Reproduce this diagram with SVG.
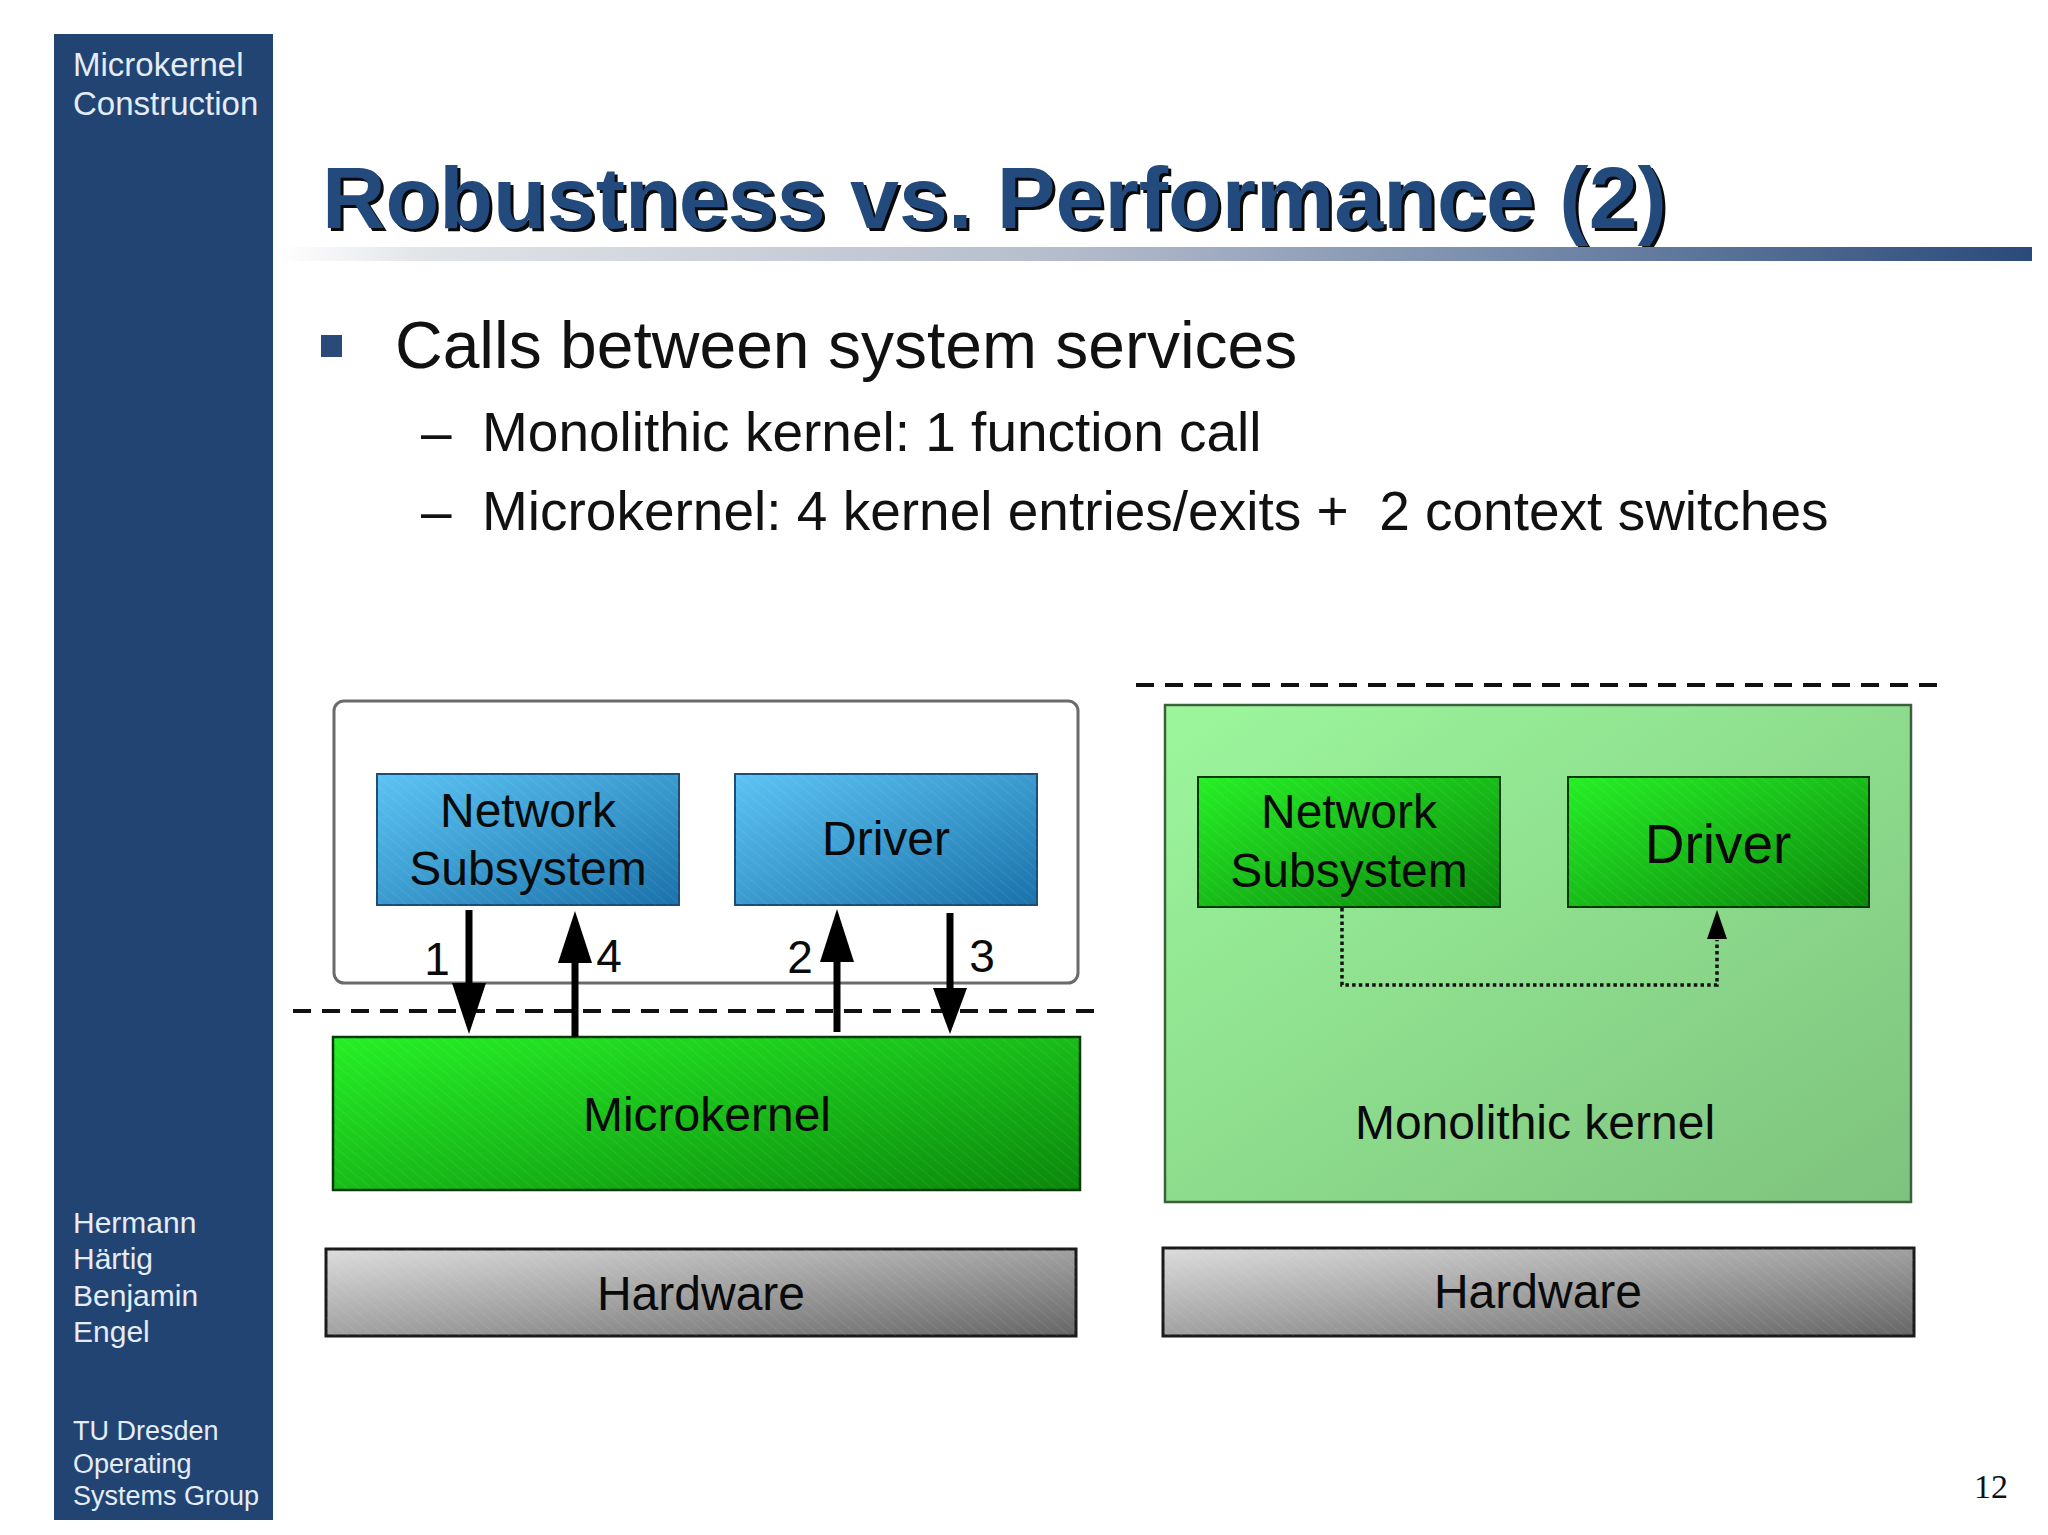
<svg xmlns="http://www.w3.org/2000/svg" width="2048" height="1535" viewBox="0 0 2048 1535">
<defs>
<style>
.side{font-family:"Liberation Sans",Arial,sans-serif;fill:#e4ecf7}
.body{font-family:"Liberation Sans",Arial,sans-serif;fill:#111}
.lbl{font-family:"Liberation Sans",Arial,sans-serif;font-size:48px;fill:#0a0a0a;text-anchor:middle}
.num{font-family:"Liberation Sans",Arial,sans-serif;font-size:46px;fill:#0a0a0a;text-anchor:middle}
.dash{stroke:#111;stroke-width:4;stroke-dasharray:18 11;fill:none}
.shaft{stroke:#000;stroke-width:7;fill:none}
.head{fill:#000}
.dot{stroke:#111;stroke-width:3.5;stroke-dasharray:3.5 3.2;fill:none}
</style>
<linearGradient id="bar" x1="0" y1="0" x2="1" y2="0">
<stop offset="0" stop-color="#ffffff"/>
<stop offset="0.08" stop-color="#e2e4e8"/>
<stop offset="0.45" stop-color="#b4bccb"/>
<stop offset="0.75" stop-color="#6c82a4"/>
<stop offset="1" stop-color="#2a4a7a"/>
</linearGradient>
<linearGradient id="blue" x1="0" y1="0" x2="1" y2="1">
<stop offset="0" stop-color="#5cc4f4"/>
<stop offset="1" stop-color="#1a72aa"/>
</linearGradient>
<linearGradient id="green" x1="0" y1="0" x2="1" y2="1">
<stop offset="0" stop-color="#26f026"/>
<stop offset="1" stop-color="#0b880b"/>
</linearGradient>
<linearGradient id="lgreen" x1="0" y1="0" x2="1" y2="1">
<stop offset="0" stop-color="#9cf79c"/>
<stop offset="1" stop-color="#7ec27e"/>
</linearGradient>
<linearGradient id="gray" x1="0" y1="0" x2="1" y2="1">
<stop offset="0" stop-color="#dcdcdc"/>
<stop offset="1" stop-color="#666666"/>
</linearGradient>
<pattern id="hatch" width="8" height="8" patternUnits="userSpaceOnUse" patternTransform="rotate(-50)">
<line x1="0" y1="0" x2="0" y2="8" stroke="#ffffff" stroke-opacity="0.07" stroke-width="2"/>
</pattern>
</defs>
<rect width="2048" height="1535" fill="#ffffff"/>

<g id="sidebar">
<rect x="54" y="34" width="219" height="1486" fill="#224473"/>
<text class="side" x="73" y="76" style="font-size:33px">Microkernel</text>
<text class="side" x="73" y="115" style="font-size:33px">Construction</text>
<text class="side" x="73" y="1233" style="font-size:30px">Hermann</text>
<text class="side" x="73" y="1269" style="font-size:30px">Härtig</text>
<text class="side" x="73" y="1306" style="font-size:30px">Benjamin</text>
<text class="side" x="73" y="1342" style="font-size:30px">Engel</text>
<text class="side" x="73" y="1440" style="font-size:27px">TU Dresden</text>
<text class="side" x="73" y="1473" style="font-size:27px">Operating</text>
<text class="side" x="73" y="1505" style="font-size:27px">Systems Group</text>
</g>

<g id="title">
<text x="325" y="231" font-family="'Liberation Sans',Arial,sans-serif" font-weight="bold" font-size="88" fill="#0a0a0a">Robustness vs. Performance (2)</text>
<text x="322" y="228" font-family="'Liberation Sans',Arial,sans-serif" font-weight="bold" font-size="88" fill="#234a7c">Robustness vs. Performance (2)</text>
<rect x="280" y="247" width="1752" height="14" fill="url(#bar)"/>
</g>

<g id="bullets">
<rect x="321" y="335" width="21" height="22" fill="#2a4a7a"/>
<text class="body" x="395" y="368" style="font-size:66px">Calls between system services</text>
<text class="body" x="421" y="451" style="font-size:55px">–</text>
<text class="body" x="482" y="451" style="font-size:55px">Monolithic kernel: 1 function call</text>
<text class="body" x="421" y="530" style="font-size:55px">–</text>
<text class="body" x="482" y="530" style="font-size:55px" xml:space="preserve">Microkernel: 4 kernel entries/exits +  2 context switches</text>
</g>

<g id="userspace">
<rect x="334" y="701" width="744" height="282" rx="10" fill="#ffffff" stroke="#6a6a6a" stroke-width="3"/>
</g>
<g id="net-left">
<rect x="377" y="774" width="302" height="131" fill="url(#blue)" stroke="#1b4d78" stroke-width="2"/>
<rect x="377" y="774" width="302" height="131" fill="url(#hatch)"/>
<text class="lbl" x="528" y="827">Network</text>
<text class="lbl" x="528" y="885">Subsystem</text>
</g>
<g id="driver-left">
<rect x="735" y="774" width="302" height="131" fill="url(#blue)" stroke="#1b4d78" stroke-width="2"/>
<rect x="735" y="774" width="302" height="131" fill="url(#hatch)"/>
<text class="lbl" x="886" y="855">Driver</text>
</g>
<g id="microkernel">
<rect x="333" y="1037" width="747" height="153" fill="url(#green)" stroke="#0a3a0a" stroke-width="2.5"/>
<rect x="333" y="1037" width="747" height="153" fill="url(#hatch)"/>
<text class="lbl" x="707" y="1131">Microkernel</text>
</g>
<g id="hardware-left">
<rect x="326" y="1249" width="750" height="87" fill="url(#gray)" stroke="#1a1a1a" stroke-width="3"/>
<rect x="326" y="1249" width="750" height="87" fill="url(#hatch)"/>
<text class="lbl" x="701" y="1310">Hardware</text>
</g>

<g id="monolithic">
<rect x="1165" y="705" width="746" height="497" fill="url(#lgreen)" stroke="#3d5f3d" stroke-width="2.5"/>
<text class="lbl" x="1535" y="1139">Monolithic kernel</text>
</g>
<g id="net-right">
<rect x="1198" y="777" width="302" height="130" fill="url(#green)" stroke="#0a3a0a" stroke-width="2"/>
<rect x="1198" y="777" width="302" height="130" fill="url(#hatch)"/>
<text class="lbl" x="1349" y="828">Network</text>
<text class="lbl" x="1349" y="887">Subsystem</text>
</g>
<g id="driver-right">
<rect x="1568" y="777" width="301" height="130" fill="url(#green)" stroke="#0a3a0a" stroke-width="2"/>
<rect x="1568" y="777" width="301" height="130" fill="url(#hatch)"/>
<text class="lbl" x="1718" y="863" style="font-size:55px">Driver</text>
</g>
<g id="hardware-right">
<rect x="1163" y="1248" width="751" height="88" fill="url(#gray)" stroke="#1a1a1a" stroke-width="3"/>
<rect x="1163" y="1248" width="751" height="88" fill="url(#hatch)"/>
<text class="lbl" x="1538" y="1308">Hardware</text>
</g>

<g id="connectors">
<line class="dash" x1="293" y1="1011" x2="1101" y2="1011"/>
<line class="dash" x1="1136" y1="685" x2="1946" y2="685"/>
<line class="shaft" x1="469" y1="910" x2="469" y2="990"/>
<polygon class="head" points="452,983 486,983 469,1034"/>
<line class="shaft" x1="575" y1="955" x2="575" y2="1037"/>
<polygon class="head" points="558,963 592,963 575,911"/>
<line class="shaft" x1="837" y1="955" x2="837" y2="1032"/>
<polygon class="head" points="820,962 854,962 837,909"/>
<line class="shaft" x1="950" y1="913" x2="950" y2="995"/>
<polygon class="head" points="933,988 967,988 950,1034"/>
<text class="num" x="437" y="975">1</text>
<text class="num" x="609" y="972">4</text>
<text class="num" x="800" y="973">2</text>
<text class="num" x="982" y="972">3</text>
<polyline class="dot" points="1342,908 1342,985 1717,985 1717,940"/>
<polygon class="head" points="1707,939 1727,939 1717,910"/>
</g>

<text x="1974" y="1498" font-family="'Liberation Serif','Times New Roman',serif" font-size="34" fill="#111">12</text>
</svg>
